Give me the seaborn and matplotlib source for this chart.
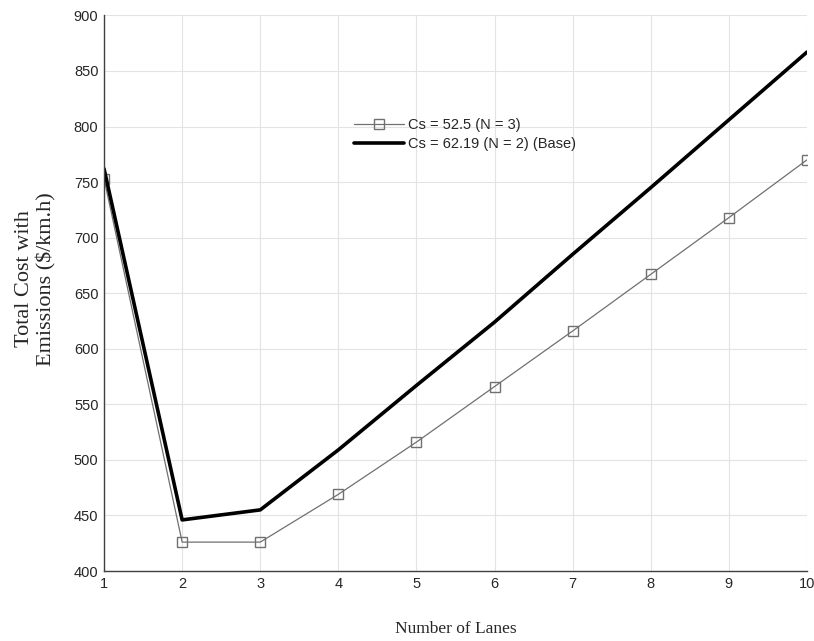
import matplotlib
matplotlib.use("Agg")
import matplotlib.pyplot as plt
import seaborn as sns
import pandas as pd

lanes = [1, 2, 3, 4, 5, 6, 7, 8, 9, 10]
cost_cs525 = [753, 426, 426, 469, 516, 566, 616, 667, 718, 770]
cost_base = [762, 446, 455, 509, 567, 624, 685, 745, 806, 867]
label_cs525 = "Cs = 52.5 (N = 3)"
label_base = "Cs = 62.19 (N = 2) (Base)"
yticks = [400, 450, 500, 550, 600, 650, 700, 750, 800, 850, 900]

sns.set_style("white")
plt.rcParams["font.family"] = ["Liberation Sans", "DejaVu Sans"]

fig = plt.figure(figsize=(8.14, 6.41), dpi=100)
ax = fig.add_axes([0.1278, 0.1092, 0.9914 - 0.1278, 0.976 - 0.1092])

df1 = pd.DataFrame({"x": lanes, "y": cost_cs525})
df2 = pd.DataFrame({"x": lanes, "y": cost_base})

sns.lineplot(data=df1, x="x", y="y", ax=ax, color="#707070", linewidth=0.9,
             marker="s", markersize=7, markerfacecolor="none",
             markeredgecolor="#707070", markeredgewidth=1.0, label=label_cs525)
sns.lineplot(data=df2, x="x", y="y", ax=ax, color="black", linewidth=2.6,
             label=label_base)

ax.set_xlim(1, 10)
ax.set_ylim(400, 900)
ax.set_xticks(lanes)
ax.set_yticks(yticks)
ax.tick_params(axis="both", direction="in", length=5, width=1, colors="#404040",
               labelsize=10.5, labelcolor="#262626", pad=4)

ax.grid(True, color="#e3e3e3", linewidth=0.8)
for s in ["top", "right"]:
    ax.spines[s].set_visible(False)
for s in ["left", "bottom"]:
    ax.spines[s].set_color("#404040")
    ax.spines[s].set_linewidth(1.0)

ax.set_xlabel("Number of Lanes", family=["Liberation Serif", "DejaVu Serif"],
              fontsize=12.5)
ax.xaxis.set_label_coords(0.5, -0.09)
ax.set_ylabel("Total Cost with\nEmissions ($/km.h)",
              family=["Liberation Serif", "DejaVu Serif"], fontsize=16,
              linespacing=1.15)
ax.yaxis.set_label_coords(-0.068, 0.526)

leg = ax.legend(loc="upper left", bbox_to_anchor=(0.3475, 0.825), frameon=False,
                fontsize=10.5, handlelength=3.4, handletextpad=0.3,
                labelspacing=0.3, borderaxespad=0)

fig.savefig("out.png", dpi=100)
